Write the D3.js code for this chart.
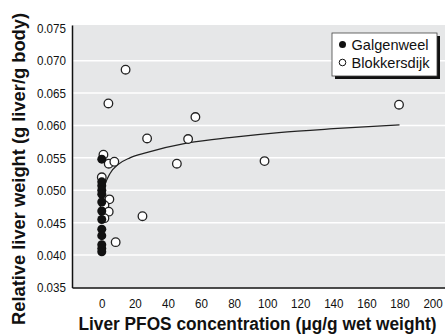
<!DOCTYPE html>
<html>
<head>
<meta charset="utf-8">
<script src="https://cdn.jsdelivr.net/npm/d3@7"></script>
<style>
  body { margin: 0; background: #fff; }
  svg { display: block; font-family: "Liberation Sans", Arial, sans-serif; }
</style>
</head>
<body>
<svg id="chart" width="445" height="335"></svg>
<script>
// Galgenweel (filled): PFOS ~0, relative liver weight
const galgenX = [0, 0, 0, 0, 0, 0, 0, 0, 0, 0, 0, 0, 0];
const galgenY = [0.0548, 0.0513, 0.0507, 0.0500, 0.0494, 0.0482, 0.0468, 0.0455, 0.0440, 0.0430, 0.0416, 0.0410, 0.0405];

// Blokkersdijk (open)
const blokX = [14.4, 4.0, 56.6, 179.7, 27.4, 52.2, 45.4, 98.4, 24.6, 1.0, 4.2, 7.6, 0.0, 4.6, 1.6, 4.2, 1.6, 8.4];
const blokY = [0.0686, 0.0634, 0.0613, 0.0632, 0.0580, 0.0579, 0.0541, 0.0545, 0.0460, 0.0555, 0.0541, 0.0544, 0.0520, 0.0486, 0.0477, 0.0467, 0.0457, 0.0420];

// fitted curve
const fitX = [1, 2, 5, 10, 17, 27, 52, 80, 107, 140, 180];
const fitY = [0.0500, 0.0509, 0.0526, 0.0540, 0.0550, 0.0558, 0.0573, 0.0582, 0.0589, 0.0595, 0.0601];

const xTicks = [0, 20, 40, 60, 80, 100, 120, 140, 160, 180, 200];
const yTicks = [0.035, 0.040, 0.045, 0.050, 0.055, 0.060, 0.065, 0.070, 0.075];
const gridTicks = [0.040, 0.045, 0.050, 0.055, 0.060, 0.065, 0.070];

const svg = d3.select("#chart");
const plotL = 72, plotR = 445, plotT = 25, plotB = 287.5;

const x = d3.scaleLinear().domain([-18, 207.5]).range([plotL, plotR]);
const y = d3.scaleLinear().domain([0.035, 0.0755]).range([plotB, plotT]);

// squeeze text horizontally to mimic the condensed typeface
function condense(sel, f) {
  sel.each(function() {
    const w = this.getComputedTextLength();
    d3.select(this).attr("textLength", w * f).attr("lengthAdjust", "spacingAndGlyphs");
  });
}

// plot background
svg.append("rect")
  .attr("x", plotL).attr("y", plotT)
  .attr("width", plotR - plotL).attr("height", plotB - plotT)
  .attr("fill", "#e6e7e8");

// gridlines
svg.selectAll(".grid")
  .data(gridTicks)
  .enter().append("line")
  .attr("x1", plotL).attr("x2", plotR)
  .attr("y1", d => y(d)).attr("y2", d => y(d))
  .attr("stroke", "#fff")
  .attr("stroke-width", 1.5);

// axes
const yAxis = svg.append("g")
  .attr("transform", "translate(" + plotL + ",0)")
  .call(d3.axisLeft(y).tickValues(yTicks).tickFormat(d3.format(".3f")).tickSize(0).tickPadding(6));

const xAxis = svg.append("g")
  .attr("transform", "translate(0," + plotB + ")")
  .call(d3.axisBottom(x).tickValues(xTicks).tickSize(0).tickPadding(11));

[xAxis, yAxis].forEach(g => {
  g.attr("font-family", null).attr("font-size", null);
  g.select(".domain").attr("stroke", "#111").attr("stroke-width", 1.5);
  g.selectAll("text").attr("fill", "#111").style("font-size", "13.5px");
  condense(g.selectAll("text"), 0.86);
});

// fitted line
const line = d3.line()
  .x((d, i) => x(fitX[i]))
  .y(d => y(d))
  .curve(d3.curveMonotoneX);

svg.append("path")
  .attr("d", line(fitY))
  .attr("fill", "none")
  .attr("stroke", "#222")
  .attr("stroke-width", 1.2);

// Blokkersdijk points
svg.selectAll(".blok")
  .data(blokY)
  .enter().append("circle")
  .attr("cx", (d, i) => x(blokX[i]))
  .attr("cy", d => y(d))
  .attr("r", 4.3)
  .attr("fill", "#fff")
  .attr("stroke", "#222")
  .attr("stroke-width", 1.3);

// Galgenweel points
svg.selectAll(".galg")
  .data(galgenY)
  .enter().append("circle")
  .attr("cx", (d, i) => x(galgenX[i]))
  .attr("cy", d => y(d))
  .attr("r", 4.5)
  .attr("fill", "#111");

// legend
const lg = svg.append("g").attr("transform", "translate(332,33)");
lg.append("rect").attr("x", 3).attr("y", 3).attr("width", 105).attr("height", 43).attr("fill", "#111");
lg.append("rect").attr("x", 0).attr("y", 0).attr("width", 105).attr("height", 43)
  .attr("fill", "#fff").attr("stroke", "#444").attr("stroke-width", 0.8);
lg.append("circle").attr("cx", 10.5).attr("cy", 11.5).attr("r", 3.5).attr("fill", "#111");
lg.append("circle").attr("cx", 10.5).attr("cy", 29.5).attr("r", 3.3).attr("fill", "#fff").attr("stroke", "#111").attr("stroke-width", 1);
lg.append("text").attr("x", 19.5).attr("y", 16.5).text("Galgenweel")
  .style("font-size", "15px").attr("fill", "#111").attr("textLength", 77).attr("lengthAdjust", "spacingAndGlyphs");
lg.append("text").attr("x", 19.5).attr("y", 34.5).text("Blokkersdijk")
  .style("font-size", "15px").attr("fill", "#111").attr("textLength", 78).attr("lengthAdjust", "spacingAndGlyphs");

// axis titles
svg.append("text")
  .attr("x", 257.5).attr("y", 329.5)
  .attr("text-anchor", "middle")
  .style("font-size", "17.5px").style("font-weight", "bold").attr("fill", "#111")
  .attr("textLength", 358).attr("lengthAdjust", "spacingAndGlyphs")
  .text("Liver PFOS concentration (μg/g wet weight)");

svg.append("text")
  .attr("transform", "translate(24.5,169) rotate(-90)")
  .attr("text-anchor", "middle")
  .style("font-size", "18px").style("font-weight", "bold").attr("fill", "#111")
  .attr("textLength", 312).attr("lengthAdjust", "spacingAndGlyphs")
  .text("Relative liver weight (g liver/g body)");
</script>
</body>
</html>
